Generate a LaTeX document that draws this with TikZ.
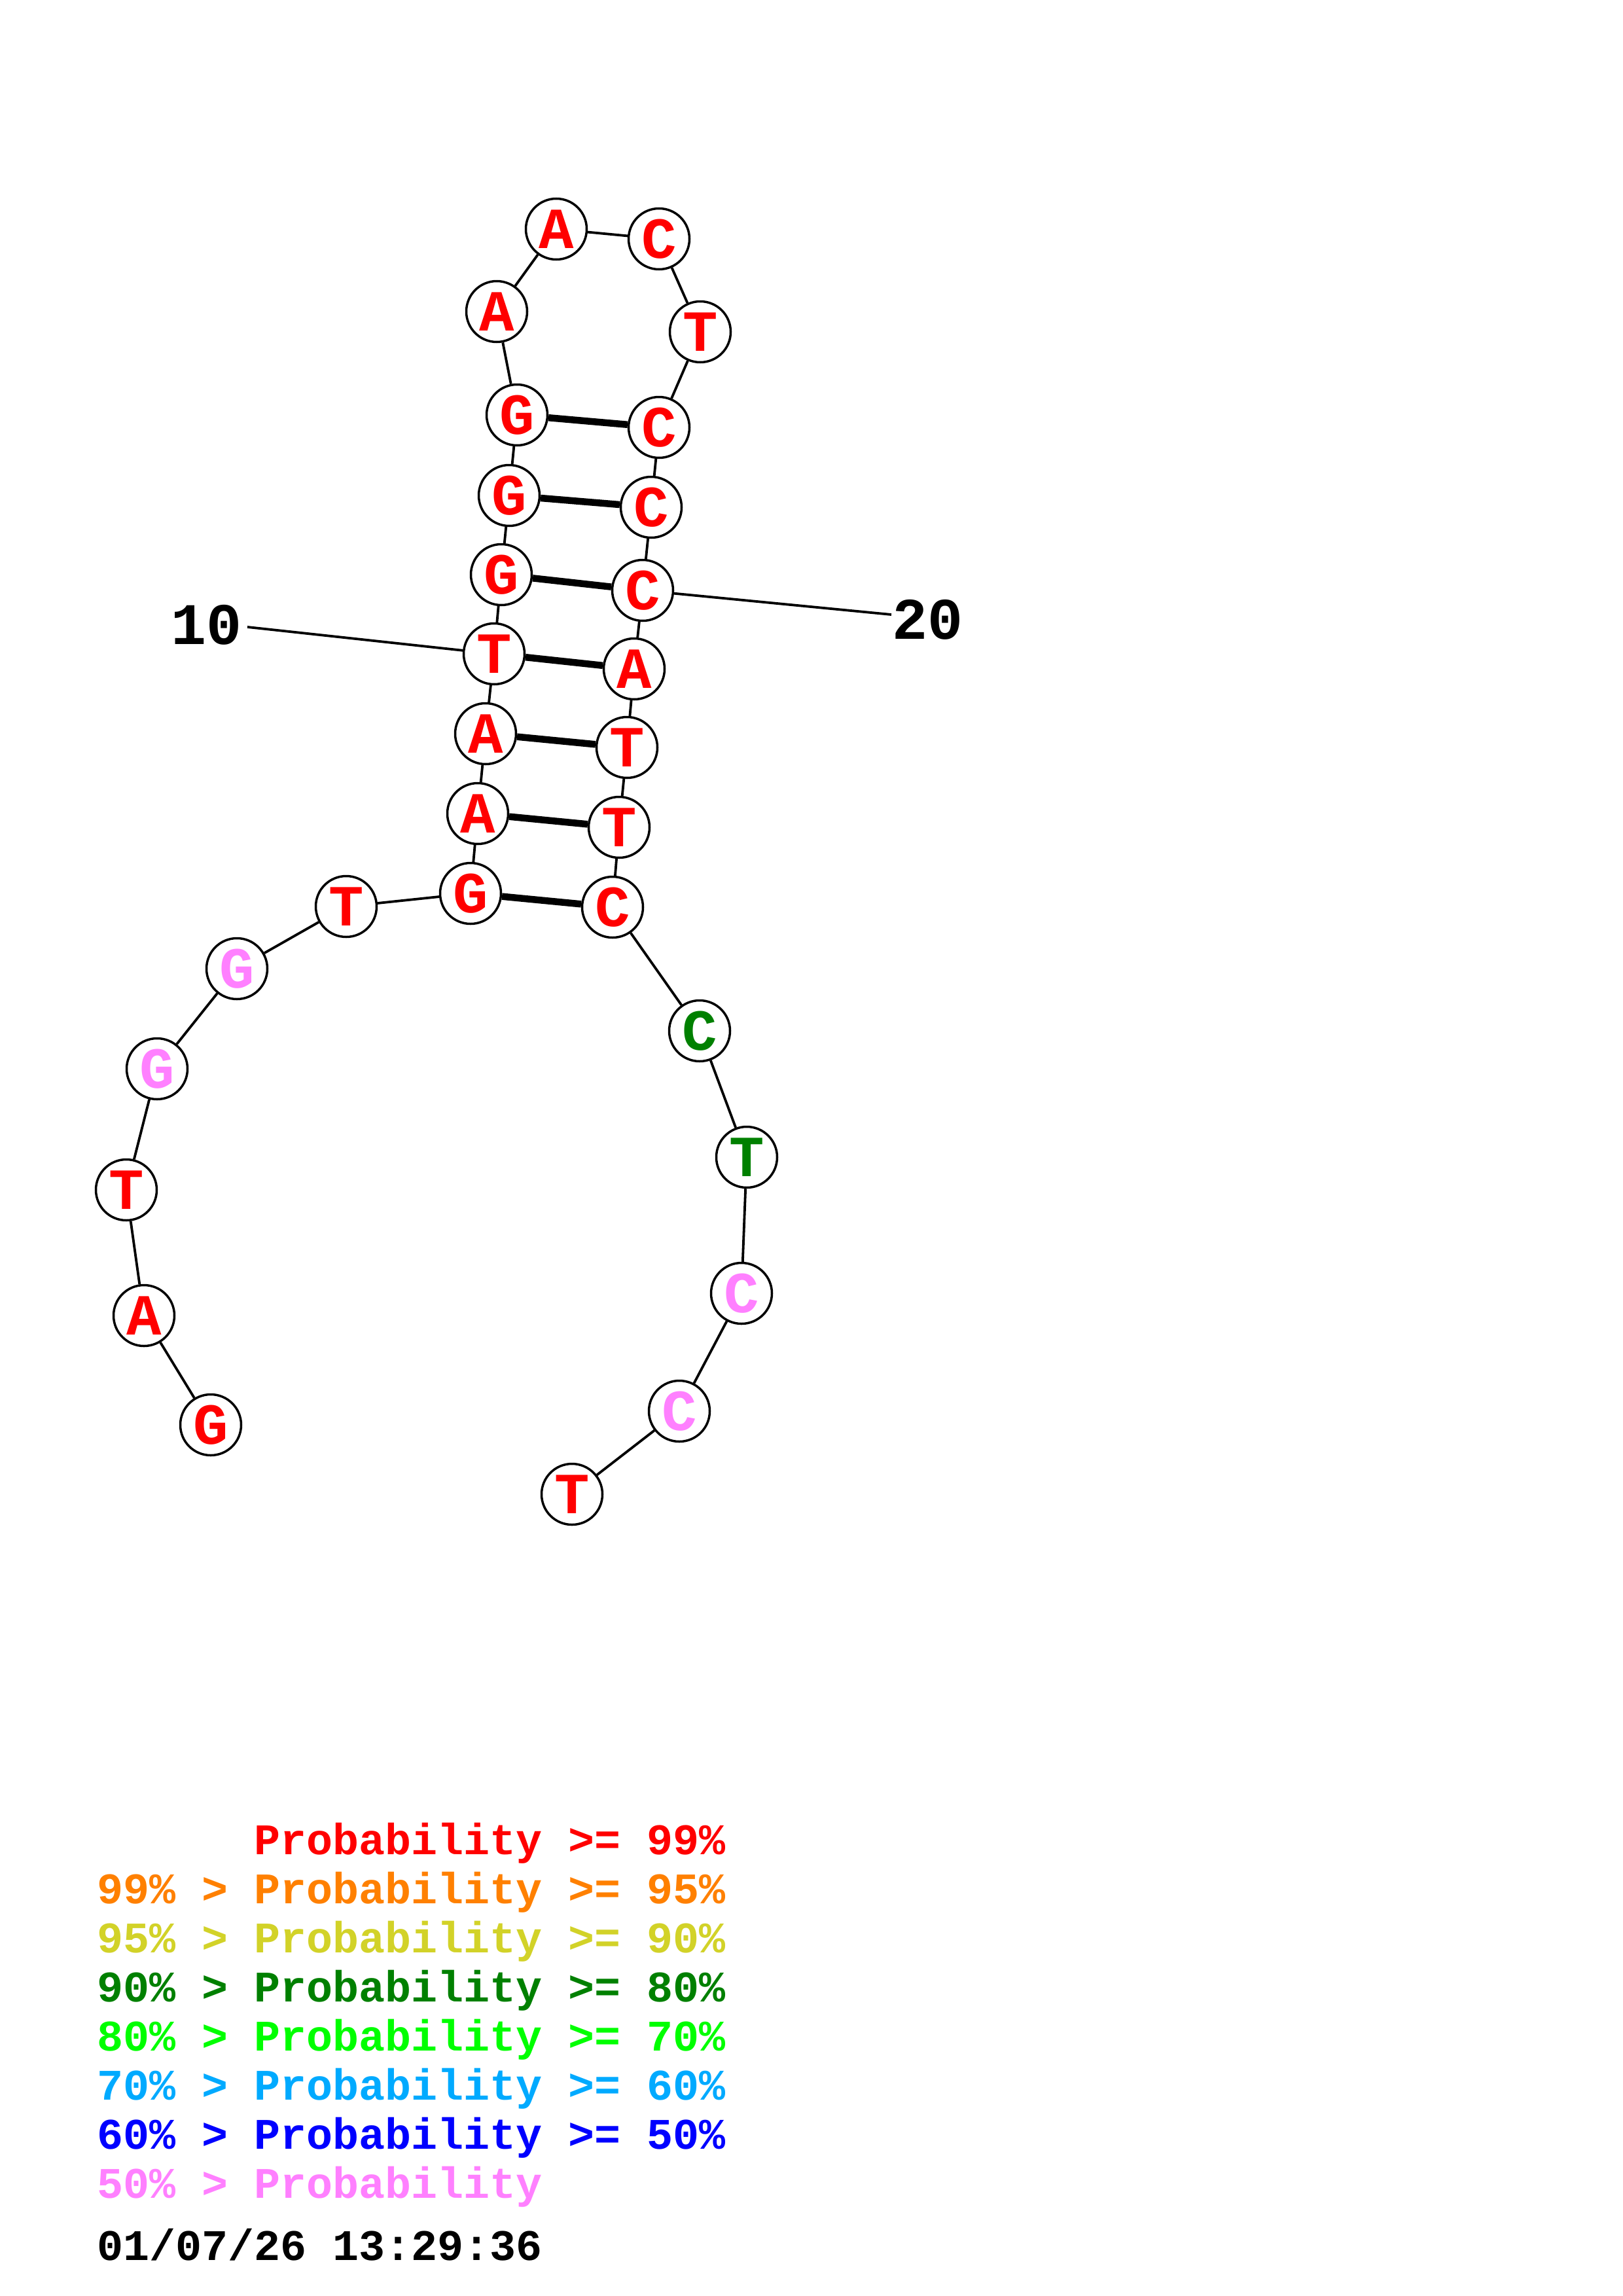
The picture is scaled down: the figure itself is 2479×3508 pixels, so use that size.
\documentclass[tikz,border=0pt]{standalone}
\usepackage{fontspec}
\newfontfamily\monob{Liberation Mono}
\definecolor{cred}{RGB}{255,0,0}
\definecolor{corange}{RGB}{255,128,0}
\definecolor{cyellow}{RGB}{210,210,40}
\definecolor{cdgreen}{RGB}{0,128,0}
\definecolor{cgreen}{RGB}{0,255,0}
\definecolor{csky}{RGB}{0,170,255}
\definecolor{cblue}{RGB}{0,0,255}
\definecolor{cpink}{RGB}{255,128,255}
\tikzset{
 nt/.style={circle, draw=black, line width=3.5pt, fill=white, inner sep=0pt, minimum size=93pt, font=\monob\bfseries\fontsize{89}{89}\selectfont},
 bb/.style={line width=3.8pt},
 bp/.style={line width=10.5pt},
 leg/.style={anchor=base west, inner sep=0pt, font=\monob\bfseries\fontsize{66.7}{66.7}\selectfont},
 numlab/.style={inner sep=0pt, font=\monob\bfseries\fontsize{90}{90}\selectfont},
}
\begin{document}
\begin{tikzpicture}[x=1pt,y=-1pt]
\useasboundingbox[fill=white] (0,0) rectangle (2479,3508);
% nucleotides
\node[nt,text=cred]  (n1)  at (322,2177) {G};
\node[nt,text=cred]  (n2)  at (220,2010) {A};
\node[nt,text=cred]  (n3)  at (193,1818) {T};
\node[nt,text=cpink] (n4)  at (240,1633) {G};
\node[nt,text=cpink] (n5)  at (362,1480) {G};
\node[nt,text=cred]  (n6)  at (529,1385) {T};
\node[nt,text=cred]  (n7)  at (719,1365) {G};
\node[nt,text=cred]  (n8)  at (730,1243) {A};
\node[nt,text=cred]  (n9)  at (742,1121) {A};
\node[nt,text=cred]  (n10) at (755,999) {T};
\node[nt,text=cred]  (n11) at (766,878) {G};
\node[nt,text=cred]  (n12) at (778,757) {G};
\node[nt,text=cred]  (n13) at (790,634) {G};
\node[nt,text=cred]  (n14) at (759,476) {A};
\node[nt,text=cred]  (n15) at (850,350) {A};
\node[nt,text=cred]  (n16) at (1007,365) {C};
\node[nt,text=cred]  (n17) at (1070,507) {T};
\node[nt,text=cred]  (n18) at (1007,653) {C};
\node[nt,text=cred]  (n19) at (995,775) {C};
\node[nt,text=cred]  (n20) at (982,902) {C};
\node[nt,text=cred]  (n21) at (969,1022) {A};
\node[nt,text=cred]  (n22) at (958,1142) {T};
\node[nt,text=cred]  (n23) at (946,1264) {T};
\node[nt,text=cred]  (n24) at (936,1386) {C};
\node[nt,text=cdgreen] (n25) at (1069,1575) {C};
\node[nt,text=cdgreen] (n26) at (1141,1768) {T};
\node[nt,text=cpink] (n27) at (1133,1976) {C};
\node[nt,text=cpink] (n28) at (1038,2156) {C};
\node[nt,text=cred]  (n29) at (874,2283) {T};
% backbone
\draw[bb] (n1)--(n2)--(n3)--(n4)--(n5)--(n6)--(n7)--(n8)--(n9)--(n10)--(n11)--(n12)--(n13)--(n14)--(n15)--(n16)--(n17)--(n18)--(n19)--(n20)--(n21)--(n22)--(n23)--(n24)--(n25)--(n26)--(n27)--(n28)--(n29);
% base pairs
\draw[bp] (n7)--(n24);
\draw[bp] (n8)--(n23);
\draw[bp] (n9)--(n22);
\draw[bp] (n10)--(n21);
\draw[bp] (n11)--(n20);
\draw[bp] (n12)--(n19);
\draw[bp] (n13)--(n18);
% position labels
\node[numlab] (l10) at (316,955) {10};
\node[numlab] (l20) at (1417,947) {20};
\coordinate (e10) at (378,958);
\coordinate (e20) at (1362,939);
\draw[bb] (e10)--(n10);
\draw[bb] (n20)--(e20);
% legend
\node[leg,text=cred]    (g1) at (148,2833) {\phantom{99\% > }Probability >= 99\%};
\node[leg,text=corange] (g2) at (148,2908) {99\% > Probability >= 95\%};
\node[leg,text=cyellow] (g3) at (148,2983) {95\% > Probability >= 90\%};
\node[leg,text=cdgreen] (g4) at (148,3058) {90\% > Probability >= 80\%};
\node[leg,text=cgreen]  (g5) at (148,3133) {80\% > Probability >= 70\%};
\node[leg,text=csky]    (g6) at (148,3208) {70\% > Probability >= 60\%};
\node[leg,text=cblue]   (g7) at (148,3283) {60\% > Probability >= 50\%};
\node[leg,text=cpink]   (g8) at (148,3358) {50\% > Probability};
\node[leg,text=black]   (g9) at (148,3453) {01/07/26 13:29:36};
\end{tikzpicture}
\end{document}
